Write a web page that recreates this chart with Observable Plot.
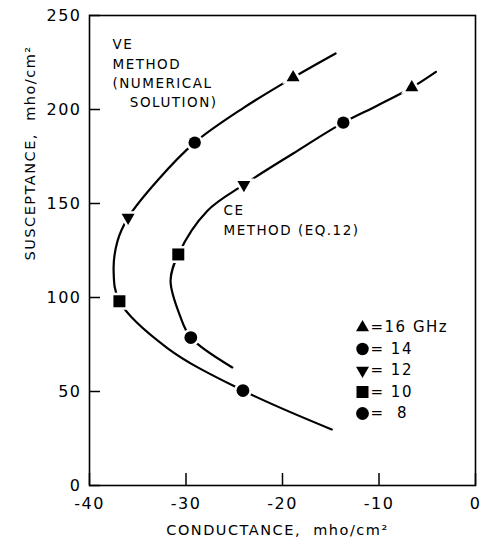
<!DOCTYPE html>
<html>
<head>
<meta charset="utf-8">
<script src="https://cdn.jsdelivr.net/npm/d3@7"></script>
<script src="https://cdn.jsdelivr.net/npm/@observablehq/plot@0.6"></script>
<style>
  html, body { margin: 0; padding: 0; background: #fff; }
</style>
</head>
<body>
<div id="chart"></div>
<script>
// ---- data ----
const freqs = [16, 14, 12, 10, 8]; // GHz
const freqSymbols = ["triUp", "circle", "triDown", "square", "ball"];

// VE method (numerical solution) marked points
const veG = [-18.9, -29.1, -36.0, -36.9, -24.1];
const veB = [217, 182.4, 142.5, 98, 50.5];
// CE method (eq. 12) marked points
const ceG = [-6.6, -13.7, -24.0, -30.8, -29.5];
const ceB = [211.7, 193, 160, 122.9, 78.7];

// traced curve points
const veCurveG = [-14.5, -18.9, -24.0, -29.1, -33.0, -36.0, -37.1, -37.5, -36.9, -31.9, -24.1, -14.9];
const veCurveB = [229.8, 217, 201, 182.4, 162, 142.5, 130, 114, 98, 73, 50.5, 29.8];
const ceCurveG = [-4.1, -6.6, -10.2, -13.7, -18.9, -24.0, -27.8, -30.8, -31.6, -30.6, -29.5, -25.2];
const ceCurveB = [220, 211.7, 202, 193, 176.6, 160, 146, 122.9, 109, 90, 78.7, 62.8];

const xTicks = [-40, -30, -20, -10, 0];
const yTicks = [0, 50, 100, 150, 200, 250];
const legendLabels = ["=16 GHz", "= 14", "= 12", "= 10", "=\u00a0 8"];

// ---- build tables ----
const vePts = freqs.map((f, i) => ({f, g: veG[i], b: veB[i]}));
const cePts = freqs.map((f, i) => ({f, g: ceG[i], b: ceB[i]}));
const veCurve = veCurveG.map((g, i) => ({g, b: veCurveB[i]}));
const ceCurve = ceCurveG.map((g, i) => ({g, b: ceCurveB[i]}));

// ---- symbols (fixed drawn sizes) ----
const shapes = {
  triUp: {draw(c) { const s = 13, h = s * Math.sqrt(3) / 2; c.moveTo(0, -2 * h / 3); c.lineTo(s / 2, h / 3); c.lineTo(-s / 2, h / 3); c.closePath(); }},
  triDown: {draw(c) { const s = 13, h = s * Math.sqrt(3) / 2; c.moveTo(0, 2 * h / 3); c.lineTo(s / 2, -h / 3); c.lineTo(-s / 2, -h / 3); c.closePath(); }},
  circle: {draw(c) { c.moveTo(6.2, 0); c.arc(0, 0, 6.2, 0, 2 * Math.PI); }},
  ball: {draw(c) { c.moveTo(6.4, 0); c.arc(0, 0, 6.4, 0, 2 * Math.PI); }},
  square: {draw(c) { c.rect(-6, -6, 12, 12); }}
};
const symOf = f => shapes[freqSymbols[freqs.indexOf(f)]];

const W = 482, H = 550, mL = 89, mR = 7, mT = 15, mB = 65;
const innerW = W - mL - mR, innerH = H - mT - mB;
const font = "DejaVu Sans, Liberation Sans, sans-serif";

const legendMarks = freqs.flatMap((f, i) => [
  Plot.dot([f], {frameAnchor: "top-left", dx: 273, dy: 312 + i * 21.5, symbol: d => symOf(d), fill: "black", stroke: "none"}),
  Plot.text([legendLabels[i]], {frameAnchor: "top-left", dx: 281, dy: 312 + i * 21.5, text: d => d, textAnchor: "start", lineAnchor: "middle", fontSize: 15, fill: "black", style: "letter-spacing:1.5px"})
]);

const pointMarks = pts => Plot.dot(pts, {
  x: "g", y: "b",
  symbol: d => symOf(d.f),
  fill: "black", stroke: "white", strokeWidth: 5, paintOrder: "stroke"
});

const chart = Plot.plot({
  width: W, height: H,
  marginLeft: mL, marginRight: mR, marginTop: mT, marginBottom: mB,
  style: {fontFamily: font, fontSize: "16px", color: "black", background: "white", letterSpacing: "1.5px"},
  x: {domain: [-40, 0]},
  y: {domain: [0, 250]},
  symbol: {type: "identity"},
  marks: [
    Plot.line(veCurve, {x: "g", y: "b", curve: "catmull-rom", stroke: "black", strokeWidth: 2.2}),
    Plot.line(ceCurve, {x: "g", y: "b", curve: "catmull-rom", stroke: "black", strokeWidth: 2.2}),
    pointMarks(vePts),
    pointMarks(cePts),
    Plot.tickX(xTicks, {x: d => d, insetTop: innerH - 12, stroke: "black", strokeWidth: 1.5}),
    Plot.tickY(yTicks, {y: d => d, insetRight: innerW - 11, stroke: "black", strokeWidth: 1.5}),
    Plot.frame({stroke: "black", strokeWidth: 1.6}),
    Plot.axisX({ticks: xTicks, tickSize: 0, tickPadding: 12, label: null,
      tickFormat: d => d < 0 ? "-" + Math.abs(d) : String(d)}),
    Plot.axisY({ticks: yTicks, tickSize: 0, tickPadding: 8, label: null}),
    Plot.text(["SUSCEPTANCE,  mho/cm\u00b2"], {frameAnchor: "left", rotate: -90, dx: -59, dy: 10, text: d => d, fontSize: 14.5, fill: "black"}),
    Plot.text(["CONDUCTANCE,  mho/cm\u00b2"], {frameAnchor: "bottom", lineAnchor: "middle", dx: -5, dy: 45, text: d => d, fontSize: 14.5, fill: "black"}),
    Plot.text(["VE\nMETHOD\n(NUMERICAL\n\u00a0\u00a0 SOLUTION)"], {frameAnchor: "top-left", dx: 23, dy: 20, text: d => d, textAnchor: "start", lineAnchor: "top", lineHeight: 1.43, fontSize: 13.5, fill: "black"}),
    Plot.text(["CE\nMETHOD (EQ.12)"], {frameAnchor: "top-left", dx: 134, dy: 186, text: d => d, textAnchor: "start", lineAnchor: "top", lineHeight: 1.45, fontSize: 13.5, fill: "black"}),
    ...legendMarks
  ]
});
document.getElementById("chart").appendChild(chart);
</script>
</body>
</html>
